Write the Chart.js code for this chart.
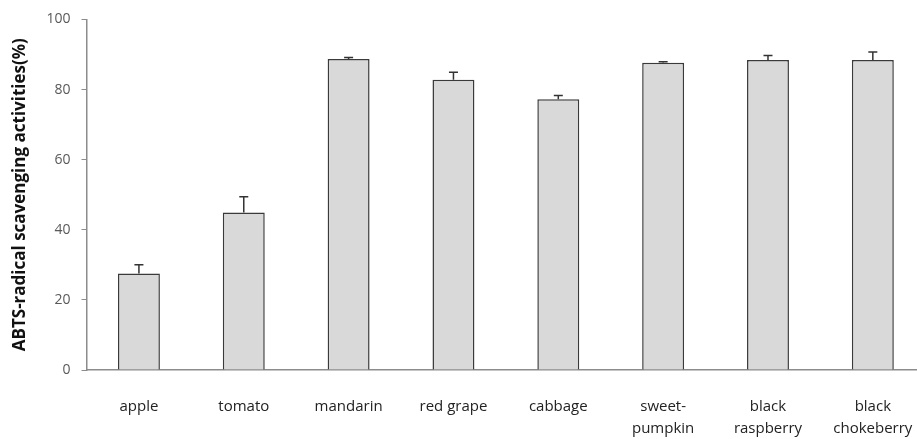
<!DOCTYPE html>
<html>
<head>
<meta charset="utf-8">
<script src="https://cdn.jsdelivr.net/npm/chart.js@4.4.0/dist/chart.umd.min.js"></script>
<style>
html,body{margin:0;padding:0;background:#fff;overflow:hidden;}
#wrap{position:absolute;left:0;top:0;width:938px;height:439px;}
</style>
</head>
<body>
<div id="wrap"><canvas id="c" width="938" height="439"></canvas></div>
<script>
const categories = [["apple"],["tomato"],["mandarin"],["red grape"],["cabbage"],["sweet-","pumpkin"],["black","raspberry"],["black","chokeberry"]];
const values = [27.5, 44.9, 88.7, 82.8, 77.2, 87.6, 88.4, 88.4];
const errors = [2.5, 4.5, 0.4, 2.1, 1.1, 0.3, 1.3, 2.3];
const yTicks = [0, 20, 40, 60, 80, 100];

const errorBars = {
  id: 'errorBars',
  afterDatasetsDraw(chart) {
    const ctx = chart.ctx;
    const meta = chart.getDatasetMeta(0);
    const ys = chart.scales.y;
    ctx.save();
    ctx.strokeStyle = '#333333';
    ctx.lineWidth = 1.5;
    meta.data.forEach((bar, i) => {
      const x = bar.x;
      const yTop = ys.getPixelForValue(values[i] + errors[i]);
      const yBase = ys.getPixelForValue(values[i]);
      ctx.beginPath();
      ctx.moveTo(x, yBase);
      ctx.lineTo(x, yTop);
      ctx.moveTo(x - 4.5, yTop);
      ctx.lineTo(x + 4.5, yTop);
      ctx.stroke();
    });
    ctx.restore();
  }
};

new Chart(document.getElementById('c'), {
  type: 'bar',
  data: {
    labels: categories,
    datasets: [{
      data: values,
      backgroundColor: '#d9d9d9',
      borderColor: '#3a3a3a',
      borderWidth: 1.5,
      barPercentage: 0.4,
      categoryPercentage: 1.0
    }]
  },
  options: {
    responsive: false,
    animation: false,
    layout: { padding: { top: 18, right: 10, bottom: 0, left: 0 } },
    plugins: { legend: { display: false }, tooltip: { enabled: false } },
    scales: {
      x: {
        offset: true,
        grid: { display: true, drawOnChartArea: false, drawTicks: false },
        border: { display: true, color: '#8c8c8c', width: 1.5 },
        ticks: { color: '#222', padding: 25, font: { family: 'Open Sans', size: 15, lineHeight: 1.5 }, maxRotation: 0, autoSkip: false },
        afterFit(scale) { scale.height = 69; }
      },
      y: {
        min: 0, max: 100,
        afterBuildTicks(scale) { scale.ticks = yTicks.map(v => ({ value: v })); },
        grid: { display: true, drawOnChartArea: false, drawTicks: true, tickLength: 5, color: '#8c8c8c' },
        border: { display: true, color: '#8c8c8c', width: 1.5 },
        ticks: { color: '#595959', padding: 11, font: { family: 'Open Sans', size: 14 } },
        title: {
          display: true,
          text: 'ABTS-radical scavenging activities(%)',
          color: '#111',
          font: { family: 'Open Sans', size: 17, weight: 'bold' },
          padding: { top: 10, bottom: 0 }
        },
        afterFit(scale) { scale.width = 86.5; }
      }
    }
  },
  plugins: [errorBars]
});
</script>
</body>
</html>
